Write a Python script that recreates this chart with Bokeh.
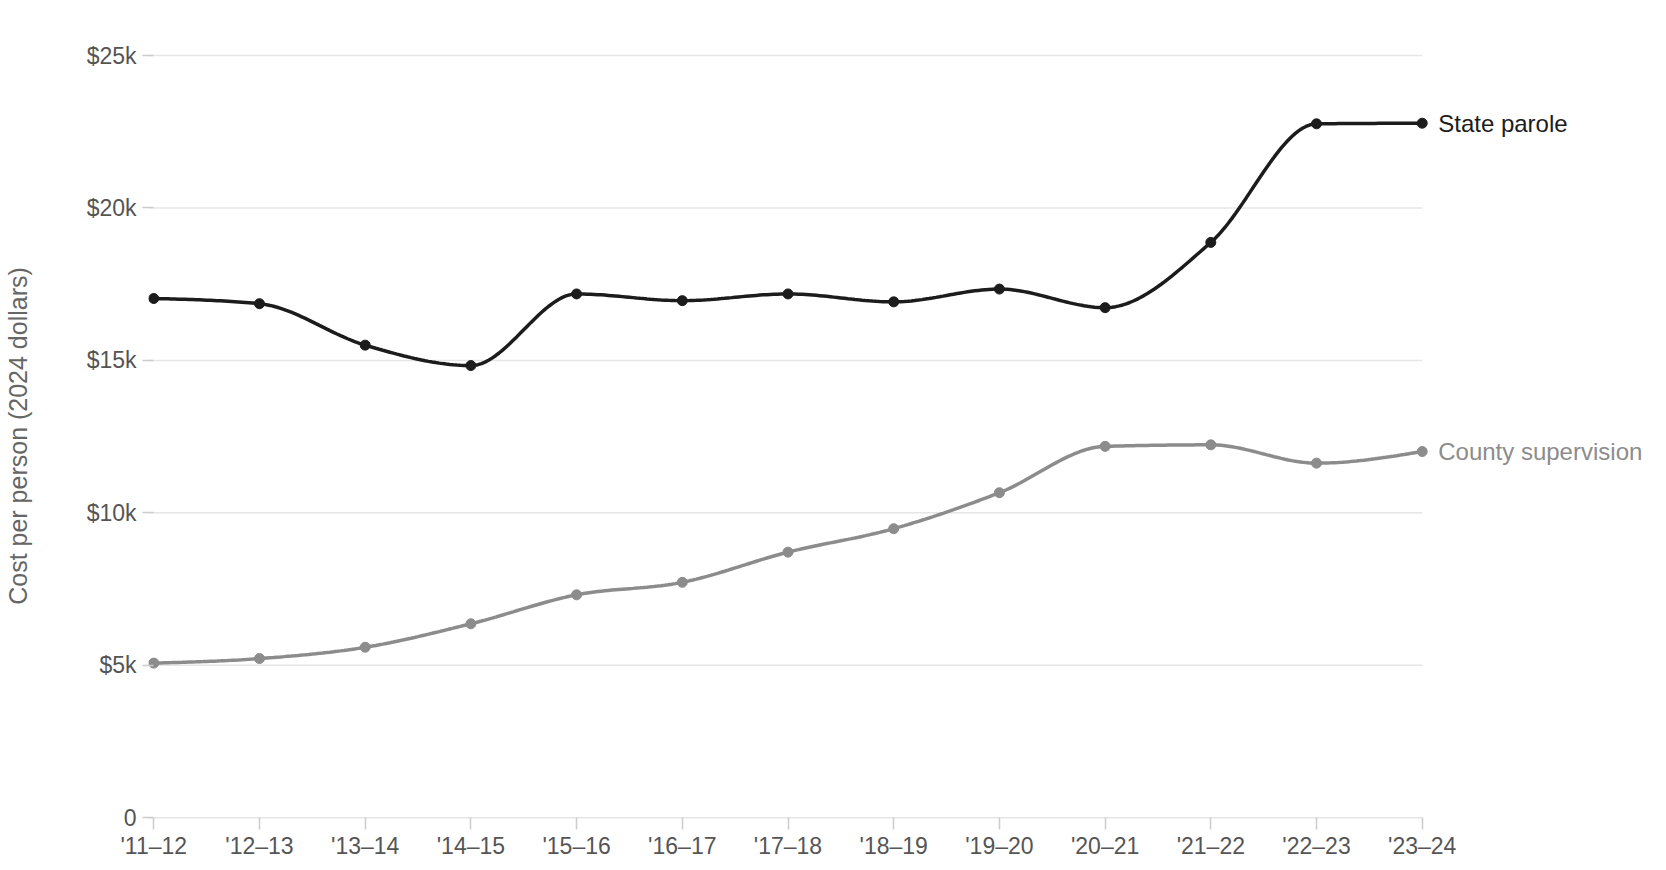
import numpy as np
from bokeh.plotting import figure
from bokeh.models import Range1d, FixedTicker
from bokeh.core.properties import value
from bokeh.embed import file_html
from bokeh.resources import INLINE

# ---- data ----
years = ["'11\u201312", "'12\u201313", "'13\u201314", "'14\u201315", "'15\u201316", "'16\u201317",
         "'17\u201318", "'18\u201319", "'19\u201320", "'20\u201321", "'21\u201322", "'22\u201323", "'23\u201324"]
state_parole = [17030, 16860, 15500, 14830, 17180, 16960, 17180, 16920, 17340, 16730, 18870, 22760, 22780]
county_supervision = [5070, 5220, 5590, 6360, 7310, 7720, 8710, 9480, 10660, 12180, 12230, 11630, 12010]
y_ticks = [0, 5000, 10000, 15000, 20000, 25000]
y_tick_labels = ["0", "$5k", "$10k", "$15k", "$20k", "$25k"]
series_names = ["State parole", "County supervision"]
y_title = "Cost per person (2024 dollars)"

FONT = "Liberation Sans"
STATE_COLOR = "#1c1c1c"
COUNTY_COLOR = "#8c8c8c"
GRID_COLOR = "#e6e6e6"


def monotone_x(xs, ys, n=30):
    """d3.curveMonotoneX style interpolation (Steffen)."""
    xs = np.asarray(xs, float)
    ys = np.asarray(ys, float)
    m = len(xs)
    h = np.diff(xs)
    s = np.diff(ys) / h
    sign = lambda v: -1.0 if v < 0 else 1.0
    t = np.zeros(m)
    for i in range(1, m - 1):
        s0, s1, h0, h1 = s[i - 1], s[i], h[i - 1], h[i]
        p = (s0 * h1 + s1 * h0) / (h0 + h1)
        t[i] = (sign(s0) + sign(s1)) * min(abs(s0), abs(s1), 0.5 * abs(p))
    t[0] = (3 * s[0] - t[1]) / 2
    t[-1] = (3 * s[-1] - t[-2]) / 2
    X, Y = [], []
    for i in range(m - 1):
        u = np.linspace(0, 1, n, endpoint=(i == m - 2))
        hh = h[i]
        h00 = 2 * u**3 - 3 * u**2 + 1
        h10 = u**3 - 2 * u**2 + u
        h01 = -2 * u**3 + 3 * u**2
        h11 = u**3 - u**2
        X.extend(xs[i] + u * hh)
        Y.extend(h00 * ys[i] + h10 * hh * t[i] + h01 * ys[i + 1] + h11 * hh * t[i + 1])
    return X, Y


xi = list(range(len(years)))
PAD = 0.05                      # small padding so end markers are not clipped
UNIT_PX = 1279 / 12.1           # pixels per category step
FRAME_W = 1500                  # frame extends right to hold the series labels
x_end = -PAD + FRAME_W / UNIT_PX

p = figure(
    frame_width=FRAME_W, frame_height=767,
    min_border_left=148, min_border_top=52, min_border_right=2, min_border_bottom=37,
    x_range=Range1d(-PAD, x_end),
    y_range=Range1d(-60, 25100),
    output_backend="svg", toolbar_location=None,
)
p.outline_line_color = None
p.background_fill_color = "white"
p.border_fill_color = "white"

# grid lines (only across the data span), including the zero baseline
p.xgrid.grid_line_color = None
p.ygrid.grid_line_color = None
p.segment(x0=[-PAD] * len(y_ticks), x1=[xi[-1]] * len(y_ticks), y0=y_ticks, y1=y_ticks,
          line_color=GRID_COLOR, line_width=1.5)

# x axis
p.xaxis.ticker = FixedTicker(ticks=xi)
p.xaxis.major_label_overrides = {i: lab for i, lab in enumerate(years)}
p.xaxis.axis_line_color = None
p.xaxis.major_tick_line_color = "#cccccc"
p.xaxis.major_tick_line_width = 1.5
p.xaxis.major_tick_out = 10
p.xaxis.major_tick_in = 2
p.xaxis.minor_tick_line_color = None
p.xaxis.major_label_standoff = 3
p.xaxis.major_label_text_font = FONT
p.xaxis.major_label_text_font_size = "23px"
p.xaxis.major_label_text_color = "#555555"

# y axis
p.yaxis.ticker = FixedTicker(ticks=y_ticks)
p.yaxis.major_label_overrides = {t: lab for t, lab in zip(y_ticks, y_tick_labels)}
p.yaxis.axis_line_color = None
p.yaxis.major_tick_line_color = "#cccccc"
p.yaxis.major_tick_line_width = 1.5
p.yaxis.major_tick_out = 6
p.yaxis.major_tick_in = 5
p.yaxis.minor_tick_line_color = None
p.yaxis.major_label_standoff = 6
p.yaxis.major_label_text_font = FONT
p.yaxis.major_label_text_font_size = "23px"
p.yaxis.major_label_text_color = "#555555"
p.yaxis.axis_label = y_title
p.yaxis.axis_label_text_font = FONT
p.yaxis.axis_label_text_font_size = "25px"
p.yaxis.axis_label_text_font_style = "normal"
p.yaxis.axis_label_text_color = "#666666"
p.yaxis.axis_label_standoff = 52

# series
for vals, color, name in [(county_supervision, COUNTY_COLOR, series_names[1]),
                          (state_parole, STATE_COLOR, series_names[0])]:
    cx, cy = monotone_x(xi, vals)
    p.line(cx, cy, line_color=color, line_width=3.5)
    p.scatter(xi, vals, size=10, fill_color=color, line_color=color)
    p.text(x=[xi[-1]], y=[vals[-1]], text=[name], x_offset=16,
           text_baseline="middle", text_align="left",
           text_font=value(FONT), text_font_size="24px", text_color=color)

open("out.html", "w").write(file_html(p, INLINE))
